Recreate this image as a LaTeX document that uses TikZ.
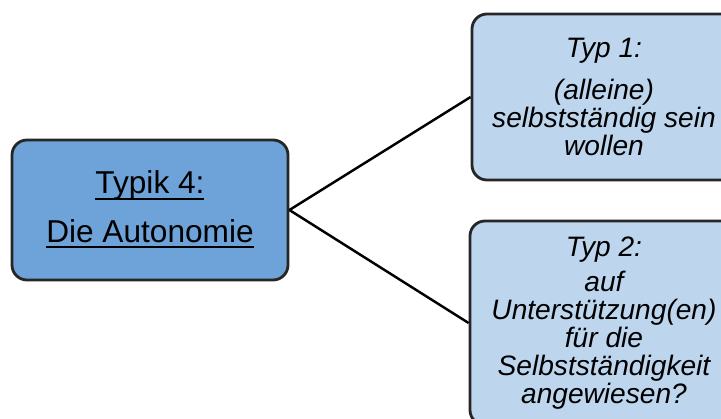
\documentclass[tikz,border=0pt]{standalone}
\usepackage{fontspec}
\setmainfont{Liberation Sans}
\usepackage{xcolor}
\definecolor{mainblue}{RGB}{109,163,216}
\definecolor{lightblue}{RGB}{189,214,238}
\newcommand{\typul}[1]{\underline{\smash{#1}}\vphantom{#1}}
\tikzset{
    typikbox/.style = {draw = black!85, line width = 0.8pt, rounded corners = 0.15cm,
        fill = mainblue, align = center, font = \fontsize{9}{13.7}\selectfont,
        minimum width = 2.76cm, minimum height = 1.40cm, inner sep = 0pt},
    typbox/.style = {draw = black!85, line width = 0.8pt, rounded corners = 0.15cm,
        fill = lightblue, align = center, font = \fontsize{8}{8}\selectfont\itshape,
        minimum width = 2.64cm, inner sep = 0pt},
    branch/.style = {line width = 0.7pt, black}
}

\begin{document}
\begin{tikzpicture}
        \useasboundingbox (0,0) rectangle (7.21,-4.18);
        % main box and the two types
        \node[typikbox] (typik) at (1.50,-2.10) {\typul{Typik 4:}\\\typul{Die Autonomie}};
        \node[typbox, minimum height = 1.66cm] (typ1) at (6.04,-0.97) {Typ 1:\\[4pt](alleine)\\selbstständig sein\\wollen};
        \node[typbox, minimum height = 2.04cm, minimum width = 2.68cm] (typ2) at (6.04,-3.23) {Typ 2:\\[2pt]auf\\Unterstützung(en)\\für die\\Selbstständigkeit\\angewiesen?};
        \draw[branch] (typik.east) -- (typ1.west);
        \draw[branch] (typik.east) -- (typ2.west);
    \end{tikzpicture}
\end{document}
